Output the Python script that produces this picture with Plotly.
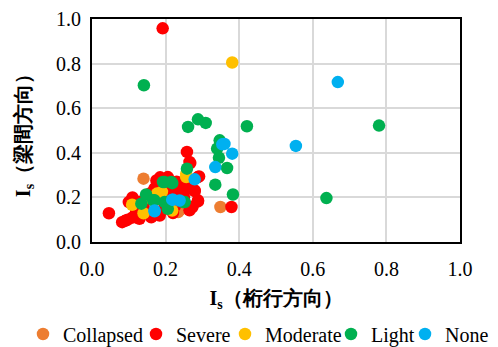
import plotly.graph_objects as go

collapsed_x = [0.140, 0.349, 0.238, 0.234]
collapsed_y = [0.284, 0.157, 0.142, 0.134]

severe_x = [0.192, 0.379, 0.258, 0.267, 0.265, 0.288, 0.291, 0.279, 0.279, 0.288, 0.288, 0.270, 0.273,
            0.046, 0.082, 0.097, 0.100, 0.161, 0.129, 0.184, 0.175, 0.206, 0.238, 0.184, 0.265,
            0.120, 0.140, 0.150, 0.160, 0.170, 0.190, 0.200, 0.210, 0.220, 0.230, 0.240, 0.250,
            0.110, 0.130, 0.200, 0.220, 0.250, 0.260, 0.150, 0.110, 0.185, 0.195, 0.225, 0.090, 0.120]
severe_y = [0.958, 0.157, 0.404, 0.354, 0.359, 0.291, 0.294, 0.228, 0.231, 0.182, 0.187, 0.157, 0.157,
            0.129, 0.089, 0.100, 0.179, 0.111, 0.104, 0.254, 0.276, 0.291, 0.246, 0.119, 0.142,
            0.130, 0.160, 0.190, 0.220, 0.240, 0.210, 0.190, 0.230, 0.250, 0.270, 0.210, 0.260,
            0.110, 0.180, 0.150, 0.130, 0.200, 0.240, 0.130, 0.200, 0.290, 0.150, 0.160, 0.095, 0.150]

moderate_x = [0.381, 0.256, 0.256, 0.109, 0.140, 0.177, 0.218, 0.190, 0.150]
moderate_y = [0.805, 0.306, 0.291, 0.167, 0.129, 0.217, 0.141, 0.225, 0.200]

light_x = [0.141, 0.261, 0.288, 0.309, 0.421, 0.780, 0.347, 0.340, 0.345, 0.367, 0.258, 0.335, 0.383,
           0.637, 0.252, 0.134, 0.147, 0.170, 0.197, 0.215, 0.197, 0.206, 0.218, 0.247, 0.166, 0.193]
light_y = [0.703, 0.516, 0.550, 0.534, 0.519, 0.522, 0.456, 0.419, 0.378, 0.332, 0.329, 0.257, 0.213,
           0.197, 0.179, 0.172, 0.213, 0.187, 0.269, 0.269, 0.179, 0.149, 0.264, 0.179, 0.187, 0.269]

none_x = [0.668, 0.554, 0.354, 0.381, 0.335, 0.279, 0.238, 0.170, 0.220, 0.218, 0.170, 0.360]
none_y = [0.717, 0.431, 0.438, 0.396, 0.336, 0.281, 0.186, 0.138, 0.190, 0.190, 0.141, 0.440]

series = [
    ("Collapsed", collapsed_x, collapsed_y, "#ED7D31"),
    ("Severe", severe_x, severe_y, "#FF0000"),
    ("Moderate", moderate_x, moderate_y, "#FFC000"),
    ("Light", light_x, light_y, "#00B050"),
    ("None", none_x, none_y, "#00B0F0"),
]
# legend entry marker centres (px) in the 498-wide figure
legend_marker_px = [50, 163, 252, 358, 432]

W, H = 498, 347
font_main = "Liberation Serif"

fig = go.Figure()
legend_layout = {}
for i, (name, xs, ys, col) in enumerate(series):
    key = "legend" if i == 0 else f"legend{i + 1}"
    fig.add_trace(go.Scatter(x=xs, y=ys, mode="markers", name=name, legend=key,
                             marker=dict(color=col, size=12.5, line=dict(width=0))))
    legend_layout[key] = dict(
        xref="container", yref="container",
        x=(legend_marker_px[i] - 27) / W, xanchor="left",
        y=1 - 334 / H, yanchor="middle",
        orientation="h", itemwidth=30, bgcolor="rgba(0,0,0,0)",
        font=dict(family=font_main, size=20, color="black"),
    )

axis_common = dict(range=[0, 1], dtick=0.2, tickformat=".1f", showgrid=True,
                   gridcolor="#D9D9D9", gridwidth=1.5, showline=True, linecolor="black",
                   linewidth=2, mirror=True, zeroline=False, ticks="", automargin=False,
                   tickfont=dict(family=font_main, size=20, color="black"))

fig.update_layout(
    width=W, height=H,
    margin=dict(l=92, r=38, t=19, b=105),
    paper_bgcolor="white", plot_bgcolor="white",
    font=dict(family=font_main, color="black"),
    xaxis=dict(**axis_common, ticklabelstandoff=8,
               title=dict(text="<b>I<sub>s</sub>（桁行方向）</b>", standoff=12,
                          font=dict(family=font_main, size=20, color="black"))),
    yaxis=dict(**axis_common, ticklabelstandoff=5,
               title=dict(text="<b>I<sub>s</sub>（梁間方向）</b>", standoff=20,
                          font=dict(family=font_main, size=20, color="black"))),
    showlegend=True,
    **legend_layout,
)

fig.write_html("out.html")
